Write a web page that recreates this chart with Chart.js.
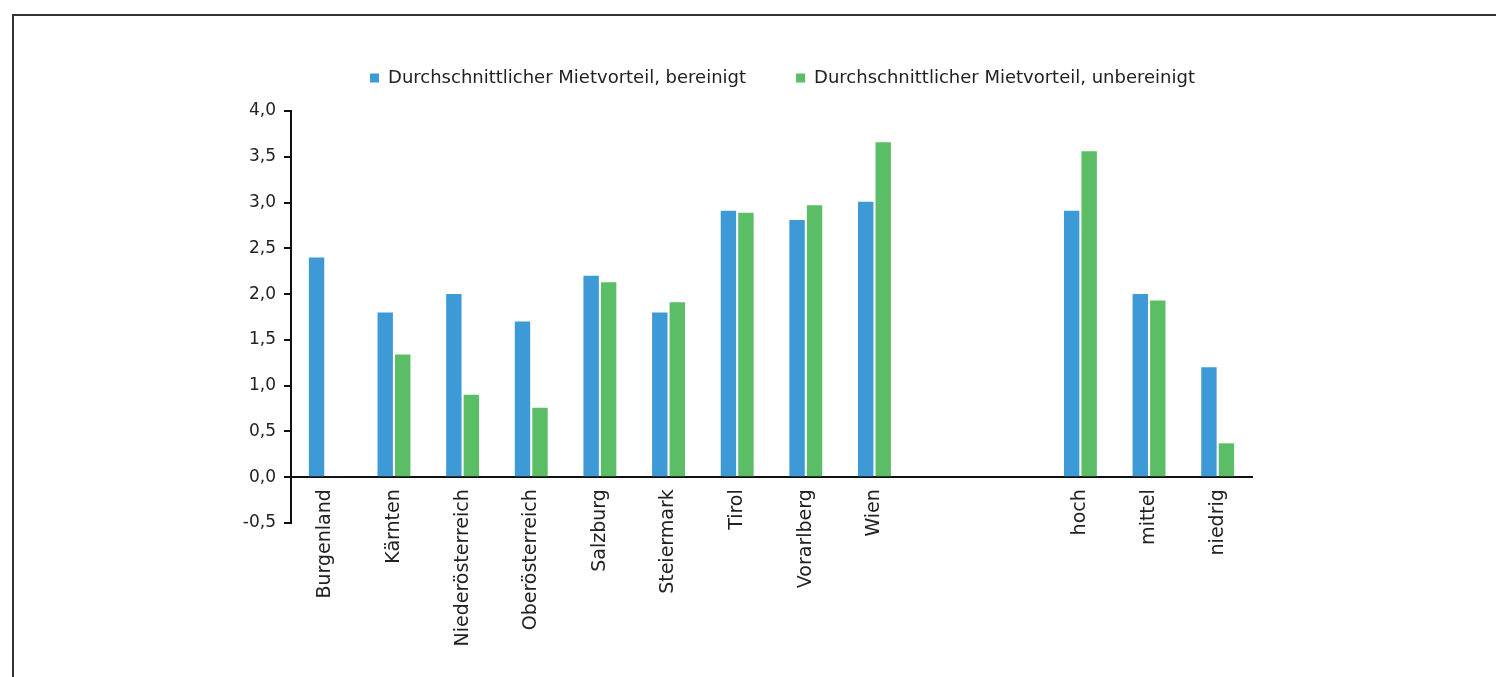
<!DOCTYPE html>
<html>
<head>
<meta charset="utf-8">
<script src="https://cdn.jsdelivr.net/npm/chart.js@4.4.1/dist/chart.umd.min.js"></script>
<style>
  html, body { margin: 0; padding: 0; background: #fff; }
  #wrap { position: relative; width: 1496px; height: 677px; overflow: hidden; }
  #frame { position: absolute; left: 12px; top: 14px; width: 1600px; height: 800px; border: 2px solid #333; box-sizing: border-box; }
  #chart { position: absolute; left: 0; top: 0; }
</style>
</head>
<body>
<div id="wrap">
  <div id="frame"></div>
  <canvas id="chart" width="1496" height="677"></canvas>
</div>
<script>
  // Regionen plus zwei leere Plätze vor den Einkommensgruppen
  const categories = ['Burgenland', 'Kärnten', 'Niederösterreich', 'Oberösterreich', 'Salzburg',
    'Steiermark', 'Tirol', 'Vorarlberg', 'Wien', '', '', 'hoch', 'mittel', 'niedrig'];
  const bereinigt = [2.4, 1.8, 2.0, 1.7, 2.2, 1.8, 2.91, 2.81, 3.01, null, null, 2.91, 2.0, 1.2];
  const unbereinigt = [0.01, 1.34, 0.9, 0.76, 2.13, 1.91, 2.89, 2.97, 3.66, null, null, 3.56, 1.93, 0.37];
  const yTicks = { min: -0.5, max: 4.0, step: 0.5 };

  const FONT = '"DejaVu Sans", sans-serif';
  const blue = '#3d9ad6';
  const green = '#5bbd65';

  // Legende: etwas mehr Abstand nach unten und leicht nach rechts
  const legendTweak = {
    id: 'legendTweak',
    beforeLayout(chart) {
      const lg = chart.legend;
      if (!lg || lg._patched) return;
      const fit = lg.fit;
      lg.fit = function () {
        fit.call(this);
        this.height += 14;
      };
      lg._patched = true;
    },
    afterLayout(chart) {
      const lg = chart.legend;
      if (!lg) return;
      lg.left += 11;
      lg.right += 11;
    }
  };

  new Chart(document.getElementById('chart'), {
    type: 'bar',
    data: {
      labels: categories,
      datasets: [
        { label: 'Durchschnittlicher Mietvorteil, bereinigt', data: bereinigt, backgroundColor: blue },
        { label: 'Durchschnittlicher Mietvorteil, unbereinigt', data: unbereinigt, backgroundColor: green }
      ]
    },
    options: {
      responsive: false,
      animation: false,
      datasets: { bar: { categoryPercentage: 0.51, barPercentage: 0.88 } },
      layout: { padding: { left: 20, right: 244, top: 19, bottom: 154 } },
      plugins: {
        tooltip: { enabled: false },
        legend: {
          position: 'top',
          fullSize: false,
          labels: {
            boxWidth: 9, boxHeight: 9, color: '#222', padding: 50,
            font: { family: FONT, size: 18 }
          }
        }
      },
      scales: {
        x: {
          position: { y: 0 },
          grid: { display: false },
          border: { display: true, color: '#111', width: 2 },
          ticks: {
            minRotation: 90, maxRotation: 90, autoSkip: false, padding: 4,
            color: '#222', font: { family: FONT, size: 19 }
          }
        },
        y: {
          min: yTicks.min, max: yTicks.max,
          afterFit(scale) { scale.width = 271; },
          grid: { drawOnChartArea: false, drawTicks: true, tickLength: 7, color: '#111', lineWidth: 2 },
          border: { display: true, color: '#111', width: 2 },
          ticks: {
            stepSize: yTicks.step, padding: 8, color: '#222',
            font: { family: FONT, size: 17 },
            callback: v => v.toFixed(1).replace('.', ',')
          }
        }
      }
    },
    plugins: [legendTweak]
  });
</script>
</body>
</html>
